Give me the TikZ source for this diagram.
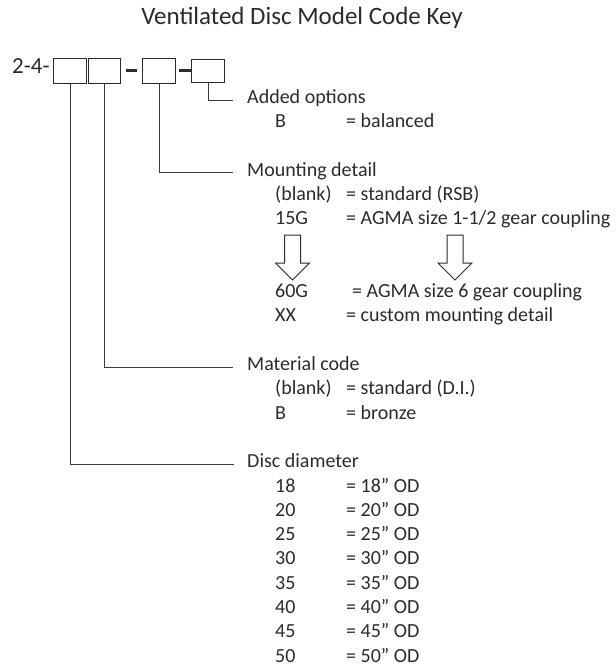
\documentclass[tikz,border=0pt]{standalone}
\usepackage{fontspec}
\setmainfont{Carlito}
\definecolor{ink}{HTML}{2B2B2B}
\definecolor{rule}{HTML}{3A3A3A}
\begin{document}
\begin{tikzpicture}[x=1pt,y=-1pt,
  txt/.style={anchor=west,inner sep=0pt,text height=0.64em,text depth=0pt,font=\fontsize{20}{24}\selectfont,text=ink},
  codebox/.style={draw=ink,line width=1.4pt,minimum width=33pt,minimum height=25pt,inner sep=0pt,anchor=north west},
  joiner/.style={draw=ink,line width=2.6pt},
  leader/.style={draw=rule,line width=0.9pt},
  hollowarrow/.pic={\draw[ink,line width=1pt,line join=miter] (-8,0) -- (8,0) -- (8,28) -- (17,28) -- (0,45) -- (-17,28) -- (-8,28) -- cycle;}
]
\useasboundingbox (0,0) rectangle (616,667);
\def\R{24.3}
\node[txt,anchor=east,font=\fontsize{25}{30}\selectfont] (title) at (463,21) {Ventilated Disc Model Code Key};
\node[txt,font=\fontsize{23}{27}\selectfont] (pre) at (12,70) {2-4-};
\node[codebox] (b1) at (53,57.5) {};
\node[codebox,minimum width=32pt] (b2) at (88,57.5) {};
\node[codebox] (b3) at (142,57.5) {};
\node[codebox,minimum height=23pt] (b4) at (191,58.5) {};
\draw[joiner] ([xshift=5pt]b2.east) -- ([xshift=-5pt]b3.west);
\draw[joiner] ([xshift=3pt]b3.east) -- (b4.west);

% Added options
\node[txt] (added) at (247,100) {Added options};
\node[txt] (addB) at (275,100+\R) {B};
\node[txt] (addBv) at (346,100+\R) {= balanced};
\draw[leader] (b4.south) |- ([xshift=-14pt]added.west);

% Mounting detail
\node[txt] (mount) at (247,100+3*\R) {Mounting detail};
\node[txt] (mblank) at (275,100+4*\R) {(blank)};
\node[txt] (mblankv) at (346,100+4*\R) {= standard (RSB)};
\node[txt] (m15) at (275,100+5*\R) {15G};
\node[txt] (m15v) at (346,100+5*\R) {= AGMA size 1-1/2 gear coupling};
\pic at (292.5,235) {hollowarrow};
\pic at (455,235) {hollowarrow};
\node[txt] (m60) at (275,100+8*\R) {60G};
\node[txt] (m60v) at (352,100+8*\R) {= AGMA size 6 gear coupling};
\node[txt] (mxx) at (275,100+9*\R) {XX};
\node[txt] (mxxv) at (346,100+9*\R) {= custom mounting detail};
\draw[leader] (b3.south) |- ([xshift=-14pt]mount.west);

% Material code
\node[txt] (mat) at (247,100+11*\R) {Material code};
\node[txt] (matblank) at (275,100+12*\R) {(blank)};
\node[txt] (matblankv) at (346,100+12*\R) {= standard (D.I.)};
\node[txt] (matB) at (275,100+13*\R) {B};
\node[txt] (matBv) at (346,100+13*\R) {= bronze};
\draw[leader] (b2.south) |- ([xshift=-14pt]mat.west);

% Disc diameter
\node[txt] (disc) at (247,100+15*\R) {Disc diameter};
\draw[leader] (b1.south) |- ([xshift=-13pt]disc.west);
\foreach \v [count=\i from 16] in {18,20,25,30,35,40,45,50}{
  \node[txt] (d\v) at (275,100+\i*\R) {\v};
  \node[txt] (d\v v) at (346,100+\i*\R) {= \v” OD};
}
\end{tikzpicture}
\end{document}
